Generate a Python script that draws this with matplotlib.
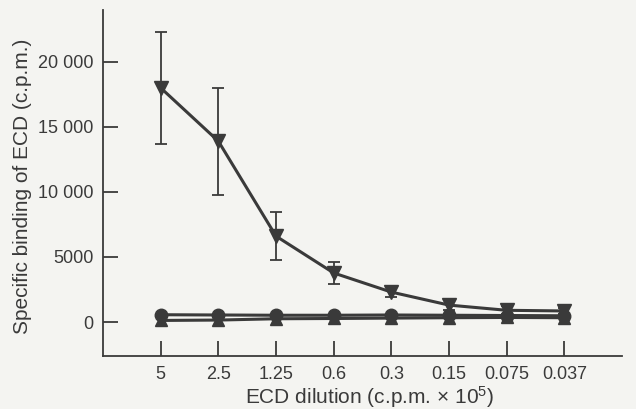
import matplotlib.pyplot as plt
import numpy as np

plt.rcParams['font.family'] = ['Liberation Sans', 'DejaVu Sans']
plt.rcParams['mathtext.fontset'] = 'custom'
plt.rcParams['mathtext.rm'] = 'Liberation Sans'
plt.rcParams['mathtext.it'] = 'Liberation Sans:italic'

dilutions = ['5', '2.5', '1.25', '0.6', '0.3', '0.15', '0.075', '0.037']
ecd_mean = [18000, 13900, 6600, 3770, 2300, 1300, 900, 850]
ecd_err = [4300, 4100, 1850, 850, 400, 400, 320, 250]
circle_mean = [560, 540, 520, 520, 540, 520, 500, 480]
tri_up_mean = [120, 150, 250, 270, 300, 330, 350, 330]

yticks = [0, 5000, 10000, 15000, 20000]
ytick_labels = ['0', '5000', '10 000', '15 000', '20 000']

ink = '#3a3a3a'
bg = '#f4f4f1'

fig = plt.figure(figsize=(6.36, 4.09), dpi=100, facecolor=bg)
ax = fig.add_axes([0.162, 0.13, 0.816, 0.846])
ax.set_facecolor(bg)

x = np.arange(len(dilutions))

ax.plot(x, tri_up_mean, color=ink, lw=2.2, marker='^', ms=9, zorder=3)
ax.plot(x, circle_mean, color=ink, lw=2.2, marker='o', ms=9, zorder=3)
ax.errorbar(x, ecd_mean, yerr=ecd_err, color=ink, lw=2.2, marker='v', ms=10,
            elinewidth=1.3, capsize=4.5, capthick=1.3, zorder=4)

ax.set_xlim(-1, 8)
ax.set_ylim(-2600, 24000)
ax.set_xticks(x)
ax.set_xticklabels(dilutions)
ax.set_yticks(yticks)
ax.set_yticklabels(ytick_labels)

for s in ['top', 'right']:
    ax.spines[s].set_visible(False)
for s in ['left', 'bottom']:
    ax.spines[s].set_color(ink)
    ax.spines[s].set_linewidth(1.3)

ax.tick_params(direction='in', length=11, width=1.3, color=ink,
               labelsize=13, labelcolor=ink)
ax.tick_params(axis='x', pad=7)
ax.tick_params(axis='y', pad=7)

ax.set_xlabel(r'ECD dilution (c.p.m. $\times$ 10$^5$)', fontsize=15, color=ink,
              va='baseline')
ax.xaxis.set_label_coords(0.513, -0.139)
ax.set_ylabel('Specific binding of ECD (c.p.m.)', fontsize=15, color=ink)
ax.yaxis.set_label_coords(-0.136, 0.491)

fig.savefig('out.png', dpi=100, facecolor=bg)
